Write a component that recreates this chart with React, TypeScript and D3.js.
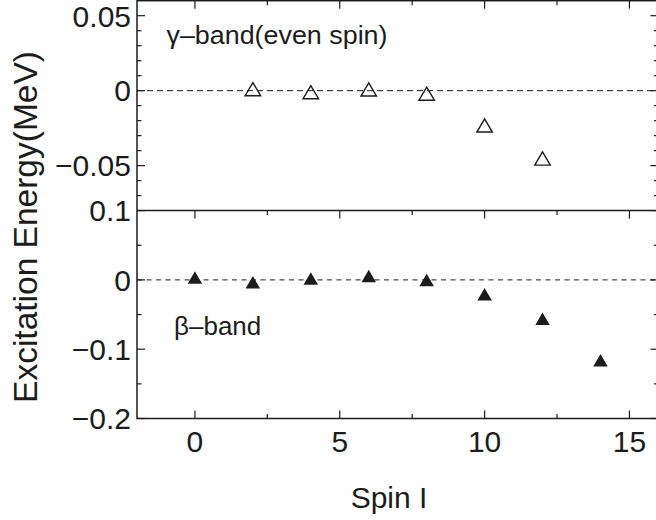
import React from "react";
import * as d3 from "d3";

const gammaSpin = [2, 4, 6, 8, 10, 12];
const gammaEnergy = [0.001, -0.001, 0.0008, -0.002, -0.0232, -0.0453];
const betaSpin = [0, 2, 4, 6, 8, 10, 12, 14];
const betaEnergy = [0.0036, -0.0033, 0.002, 0.0058, 0.0, -0.0206, -0.056, -0.116];

const xMajor = [0, 5, 10, 15];
const xMinor = [2.5, 7.5, 12.5];
const topMajor = [0.05, 0, -0.05];
const topMajorLabels = ["0.05", "0", "\u22120.05"];
const topMinor = [0.04, 0.03, 0.02, 0.01, -0.01, -0.02, -0.03, -0.04, -0.06, -0.07];
const botMajor = [0.1, 0, -0.1, -0.2];
const botMajorLabels = ["0.1", "0", "\u22120.1", "\u22120.2"];
const botMinor = [0.05, -0.05, -0.15];
const xLabels = ["0", "5", "10", "15"];

const W = 656;
const H = 520;
const L = 137;
const R = 658.4;
const topY0 = 0.7;
const sepY = 210.6;
const botY1 = 418.5;

const INK = "#1c1c1c";
const FONT = "'Liberation Sans', Arial, Helvetica, sans-serif";

function tri(cx: number, cy: number, w: number, h: number) {
  return `M${cx - w / 2},${cy + h / 2}L${cx + w / 2},${cy + h / 2}L${cx},${cy - h / 2}Z`;
}

export default function App() {
  const x = d3.scaleLinear().domain([-2, 16]).range([L, R]);
  const yT = d3.scaleLinear().domain([-0.08, 0.06]).range([sepY, topY0]);
  const yB = d3.scaleLinear().domain([-0.2, 0.1]).range([botY1, sepY]);

  const MAJ = 8;
  const MIN = 4.5;

  const yTicks = (scale: d3.ScaleLinear<number, number>, major: number[], minor: number[], key: string) => (
    <g key={key}>
      {major.map((v, i) => (
        <g key={"M" + i}>
          <line x1={L} x2={L + MAJ} y1={scale(v)} y2={scale(v)} stroke={INK} strokeWidth={1.2} />
          <line x1={R} x2={R - MAJ} y1={scale(v)} y2={scale(v)} stroke={INK} strokeWidth={1.2} />
        </g>
      ))}
      {minor.map((v, i) => (
        <g key={"m" + i}>
          <line x1={L} x2={L + MIN} y1={scale(v)} y2={scale(v)} stroke={INK} strokeWidth={1.2} />
          <line x1={R} x2={R - MIN} y1={scale(v)} y2={scale(v)} stroke={INK} strokeWidth={1.2} />
        </g>
      ))}
    </g>
  );

  const xTicksAt = (yy: number, dir: number, key: string) => (
    <g key={key}>
      {xMajor.map((v, i) => (
        <line key={"M" + i} x1={x(v)} x2={x(v)} y1={yy} y2={yy + dir * MAJ} stroke={INK} strokeWidth={1.2} />
      ))}
      {xMinor.map((v, i) => (
        <line key={"m" + i} x1={x(v)} x2={x(v)} y1={yy} y2={yy + dir * MIN} stroke={INK} strokeWidth={1.2} />
      ))}
    </g>
  );

  return (
    <svg width={W} height={H} style={{ position: "absolute", left: 0, top: 0, background: "#fff" }} fontFamily={FONT}>
      <rect x={0} y={0} width={W} height={H} fill="#fff" />
      {/* zero dashed lines */}
      <line x1={L} x2={R} y1={yT(0)} y2={yT(0)} stroke={INK} strokeWidth={1} strokeDasharray="6,4" />
      <line x1={L} x2={R} y1={yB(0)} y2={yB(0)} stroke={INK} strokeWidth={1} strokeDasharray="5,4.5" />

      {/* frames */}
      <rect x={L} y={topY0} width={R - L} height={botY1 - topY0} fill="none" stroke={INK} strokeWidth={1.5} />
      <line x1={L} x2={R} y1={sepY} y2={sepY} stroke={INK} strokeWidth={1.5} />

      {yTicks(yT, topMajor, topMinor, "tt")}
      {yTicks(yB, botMajor, botMinor, "bt")}
      {xTicksAt(topY0, 1, "xt")}
      {xTicksAt(sepY, 1, "xs")}
      {xTicksAt(botY1, -1, "xb")}

      {/* y tick labels */}
      {topMajor.map((v, i) => (
        <text key={"tl" + i} x={131} y={yT(v)} dy="0.36em" textAnchor="end" fontSize={30} fill={INK}>
          {topMajorLabels[i]}
        </text>
      ))}
      {botMajor.map((v, i) => (
        <text key={"bl" + i} x={131} y={yB(v)} dy="0.36em" textAnchor="end" fontSize={30} fill={INK}>
          {botMajorLabels[i]}
        </text>
      ))}
      {/* x tick labels */}
      {xMajor.map((v, i) => (
        <text key={"xl" + i} x={x(v)} y={452} textAnchor="middle" fontSize={30} fill={INK}>
          {xLabels[i]}
        </text>
      ))}

      {/* markers */}
      {gammaSpin.map((s, i) => (
        <path key={"g" + i} d={tri(x(s), yT(gammaEnergy[i]), 15.5, 13.2)} fill="none" stroke={INK} strokeWidth={1.4} />
      ))}
      {betaSpin.map((s, i) => (
        <path key={"b" + i} d={tri(x(s), yB(betaEnergy[i]), 14.5, 12.5)} fill={INK} stroke="none" />
      ))}

      {/* annotations */}
      <text x={166.5} y={43.5} fontSize={26} fill={INK} textLength={221} lengthAdjust="spacingAndGlyphs">
        {"\u03b3\u2013band(even spin)"}
      </text>
      <text x={174} y={335} fontSize={26} fill={INK}>
        {"\u03b2\u2013band"}
      </text>

      {/* axis titles */}
      <text x={389} y={508} textAnchor="middle" fontSize={30} fill={INK}>
        Spin I
      </text>
      <text transform={`translate(37,${227}) rotate(-90)`} textAnchor="middle" fontSize={33.5} fill={INK}>
        Excitation Energy(MeV)
      </text>
    </svg>
  );
}
